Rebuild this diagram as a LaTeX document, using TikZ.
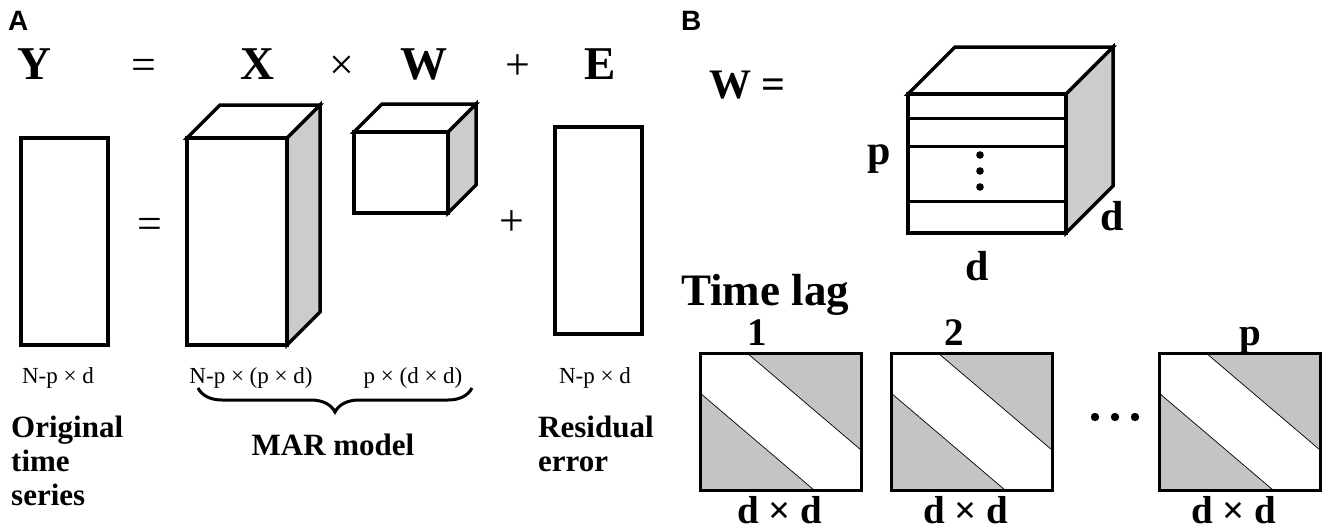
\documentclass[tikz,border=0pt]{standalone}
\usepackage{fontspec}
\setmainfont{Liberation Serif}
\newfontfamily\panelfont{Liberation Sans}
\usetikzlibrary{decorations.pathreplacing}

% front face, top face and shaded side of a block
\newcommand{\drawblock}[5]{%
    \draw[sideface] (#3,#2) -- ++(#5,-#5) -- (#3+#5,#4-#5) -- (#3,#4) -- cycle;
    \draw[frontface] (#1,#2) -- ++(#5,-#5) -- (#3+#5,#2-#5) -- (#3,#2) -- cycle;
    \draw[frontface] (#1,#2) rectangle (#3,#4);}

\begin{document}
\begin{tikzpicture}[
        x=1pt, y=-1pt,
        edge/.style={line width=3.5pt, line join=miter},
        frontface/.style={edge, fill=white},
        sideface/.style={edge, fill=black!20},
        panel/.style={font=\panelfont\bfseries\fontsize{28}{30}\selectfont, inner sep=0pt},
        term/.style={font=\bfseries\fontsize{47}{50}\selectfont, inner sep=0pt},
        op/.style={font=\fontsize{44}{46}\selectfont, inner sep=0pt},
        dims/.style={font=\fontsize{23}{25}\selectfont, inner sep=0pt},
        caption/.style={font=\bfseries\fontsize{31}{34}\selectfont, inner sep=0pt, align=left},
        letter/.style={font=\bfseries\fontsize{42}{45}\selectfont, inner sep=0pt},
        laglabel/.style={font=\bfseries\fontsize{39}{42}\selectfont, inner sep=0pt, anchor=base},
        lagframe/.style={line width=3pt},
        band/.style={fill=black!23}
    ]
    \useasboundingbox (0,0) rectangle (1323,531);

    % panel A
    \node[panel, anchor=base west] (panelA) at (8,30) {A};
    \node[term, anchor=base] (termY) at (34,79) {Y};
    \node[op, anchor=base] (eqtop) at (144,79) {=};
    \node[term, anchor=base] (termX) at (257,79) {X};
    \node[op, anchor=base] (timestop) at (342,79) {×};
    \node[term, anchor=base] (termW) at (424,79) {W};
    \node[op, anchor=base] (plustop) at (518,79) {+};
    \node[term, anchor=base] (termE) at (600,79) {E};

    \draw[frontface] (21,138) rectangle (108,345);
    \drawblock{187}{138}{287}{345}{33}
    \drawblock{354}{132}{448}{213}{28}
    \draw[frontface] (555,127) rectangle (642,334);
    \node[op] (eqmid) at (150,228) {=};
    \node[op] (plusmid) at (512,223) {+};

    \node[dims, anchor=base] (dimY) at (58,383) {N-p × d};
    \node[dims, anchor=base] (dimX) at (251,383) {N-p × (p × d)};
    \node[dims, anchor=base] (dimW) at (413,383) {p × (d × d)};
    \node[dims, anchor=base] (dimE) at (595,383) {N-p × d};

    \coordinate (braceL) at (198,388);
    \coordinate (braceR) at (472,388);
    \draw[line width=3pt, decorate, decoration={brace, mirror, amplitude=24pt}] (braceL) -- (braceR);

    \node[caption, anchor=north west] (capY) at (11,416) {Original\\time\\series};
    \node[caption, anchor=base] (capMAR) at (333,455) {MAR model};
    \node[caption, anchor=north west] (capE) at (538,416) {Residual\\error};

    % panel B
    \node[panel, anchor=base west] (panelB) at (681,30) {B};
    \node[letter, anchor=base west] (Wdef) at (709,98) {W =};
    \drawblock{908}{94}{1066}{233}{47}
    \foreach \ly in {118,146,201}
        \draw[line width=3pt] (908,\ly) -- (1066,\ly);
    \foreach \dy in {155,171,187}
        \fill (980,\dy) circle (3.8);
    \node[letter, anchor=base] (lagdim) at (879,164) {p};
    \node[letter, anchor=base] (rowdim) at (1112,230) {d};
    \node[letter, anchor=base] (coldim) at (977,280) {d};

    \node[font=\bfseries\fontsize{45}{47}\selectfont, inner sep=0pt, anchor=base west] (timelag) at (681,305) {Time lag};
    \foreach \sx/\lab/\lx/\dx in {700/1/757/780, 891/2/954/966, 1159/p/1250/1234} {
        \fill[band] (\sx+47,353) -- (\sx+161,353) -- (\sx+161,450) -- cycle;
        \fill[band] (\sx,393) -- (\sx+114,490) -- (\sx,490) -- cycle;
        \draw[line width=0.7pt] (\sx+47,353) -- (\sx+161,450);
        \draw[line width=0.7pt] (\sx,393) -- (\sx+114,490);
        \draw[lagframe] (\sx,353) rectangle (\sx+161,490);
        \node[laglabel] (lag\lab) at (\lx,345) {\lab};
        \node[laglabel] (size\lab) at (\dx,523) {d × d};
    }
    \foreach \ex in {1095,1115,1135}
        \fill (\ex,417) circle (4.2);
\end{tikzpicture}
\end{document}
